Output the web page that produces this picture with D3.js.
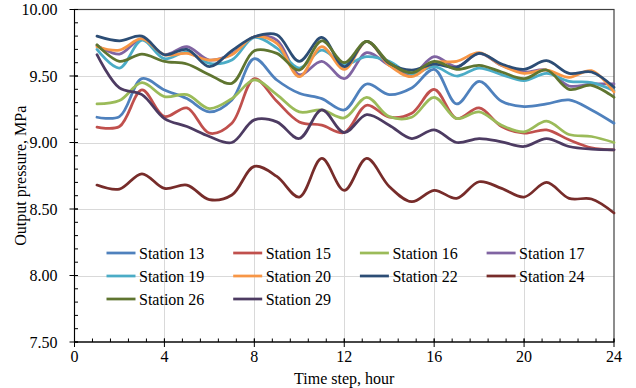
<!DOCTYPE html>
<html>
<head>
<meta charset="utf-8">
<script src="https://cdn.jsdelivr.net/npm/d3@7"></script>
<style>
  body { margin: 0; background: #fff; }
  svg { display: block; font-family: 'Liberation Serif', 'Times New Roman', serif; }
</style>
</head>
<body>
<div id="chart"></div>
<script>
const hours = [1, 2, 3, 4, 5, 6, 7, 8, 9, 10, 11, 12, 13, 14, 15, 16, 17, 18, 19, 20, 21, 22, 23, 24];

const station13 = [9.19, 9.195, 9.48, 9.395, 9.33, 9.23, 9.32, 9.63, 9.47, 9.37, 9.33, 9.245, 9.44, 9.36, 9.41, 9.55, 9.29, 9.46, 9.31, 9.27, 9.29, 9.32, 9.245, 9.145];
const station15 = [9.115, 9.12, 9.395, 9.195, 9.26, 9.07, 9.145, 9.48, 9.31, 9.155, 9.13, 9.075, 9.28, 9.19, 9.22, 9.40, 9.18, 9.26, 9.12, 9.07, 9.095, 9.02, 8.96, 8.945];
const station16 = [9.29, 9.315, 9.45, 9.345, 9.36, 9.255, 9.33, 9.47, 9.36, 9.23, 9.245, 9.185, 9.34, 9.195, 9.19, 9.34, 9.18, 9.23, 9.13, 9.08, 9.16, 9.06, 9.045, 9.00];
const station17 = [9.73, 9.665, 9.78, 9.66, 9.72, 9.62, 9.665, 9.795, 9.77, 9.51, 9.61, 9.48, 9.675, 9.58, 9.51, 9.645, 9.57, 9.67, 9.58, 9.53, 9.545, 9.425, 9.44, 9.44];
const station19 = [9.70, 9.56, 9.77, 9.63, 9.68, 9.595, 9.62, 9.79, 9.71, 9.56, 9.695, 9.59, 9.645, 9.61, 9.515, 9.57, 9.50, 9.56, 9.51, 9.465, 9.52, 9.46, 9.45, 9.39];
const station20 = [9.72, 9.695, 9.78, 9.66, 9.67, 9.62, 9.66, 9.795, 9.745, 9.495, 9.72, 9.55, 9.76, 9.58, 9.495, 9.60, 9.61, 9.675, 9.58, 9.52, 9.545, 9.49, 9.54, 9.38];
const station22 = [9.80, 9.765, 9.80, 9.66, 9.70, 9.57, 9.69, 9.795, 9.81, 9.61, 9.79, 9.57, 9.76, 9.595, 9.545, 9.59, 9.565, 9.67, 9.59, 9.55, 9.615, 9.52, 9.53, 9.415];
const station24 = [8.68, 8.65, 8.765, 8.655, 8.68, 8.57, 8.605, 8.82, 8.745, 8.59, 8.88, 8.64, 8.88, 8.67, 8.555, 8.64, 8.58, 8.705, 8.655, 8.59, 8.70, 8.58, 8.575, 8.47];
const station26 = [9.735, 9.61, 9.665, 9.61, 9.59, 9.51, 9.445, 9.69, 9.67, 9.545, 9.765, 9.60, 9.76, 9.60, 9.525, 9.61, 9.55, 9.58, 9.53, 9.48, 9.545, 9.40, 9.43, 9.34];
const station29 = [9.66, 9.41, 9.36, 9.18, 9.12, 9.045, 9.00, 9.17, 9.155, 9.03, 9.245, 9.075, 9.21, 9.13, 9.03, 9.095, 9.00, 9.03, 9.005, 8.97, 9.03, 8.97, 8.95, 8.945];

const seriesNames = ['Station 13', 'Station 15', 'Station 16', 'Station 17', 'Station 19',
  'Station 20', 'Station 22', 'Station 24', 'Station 26', 'Station 29'];
const seriesColors = ['#4f81bd', '#c0504d', '#9bbb59', '#8064a2', '#4bacc6',
  '#f79646', '#2c4d75', '#772c2a', '#5f7530', '#4d3b62'];
const seriesValues = [station13, station15, station16, station17, station19,
  station20, station22, station24, station26, station29];

const xTicks = [0, 4, 8, 12, 16, 20, 24];
const yTicks = [7.5, 8.0, 8.5, 9.0, 9.5, 10.0];

const width = 636;
const height = 388;
const margin = { top: 9.5, right: 22, bottom: 46, left: 74.5 };

const x = d3.scaleLinear().domain([0, 24]).range([margin.left, width - margin.right]);
const y = d3.scaleLinear().domain([7.5, 10]).range([height - margin.bottom, margin.top]);

const svg = d3.select('#chart').append('svg')
  .attr('width', width)
  .attr('height', height);

svg.append('rect')
  .attr('width', width)
  .attr('height', height)
  .attr('fill', '#fff');

// gridlines
svg.append('g')
  .attr('stroke', '#d9d9d9')
  .attr('stroke-width', 1)
  .call(g => {
    g.selectAll('line.h')
      .data(yTicks.slice(1, -1))
      .join('line')
      .attr('class', 'h')
      .attr('x1', x(0))
      .attr('x2', x(24))
      .attr('y1', d => Math.round(y(d)) + 0.5)
      .attr('y2', d => Math.round(y(d)) + 0.5);
    g.selectAll('line.v')
      .data(xTicks.slice(1, -1))
      .join('line')
      .attr('class', 'v')
      .attr('y1', y(7.5))
      .attr('y2', y(10))
      .attr('x1', d => Math.round(x(d)) + 0.5)
      .attr('x2', d => Math.round(x(d)) + 0.5);
  });

// plot border
svg.append('rect')
  .attr('x', x(0))
  .attr('y', y(10))
  .attr('width', x(24) - x(0))
  .attr('height', y(7.5) - y(10))
  .attr('fill', 'none')
  .attr('stroke', '#404040')
  .attr('stroke-width', 1.2);

// x axis
const xAxis = svg.append('g').attr('transform', `translate(0, ${y(7.5)})`);
xAxis.append('line')
  .attr('x1', x(0)).attr('x2', x(24))
  .attr('stroke', '#000').attr('stroke-width', 1);
xAxis.selectAll('line.minor')
  .data(d3.range(0, 24.001, 0.8))
  .join('line')
  .attr('class', 'minor')
  .attr('x1', d => x(d)).attr('x2', d => x(d))
  .attr('y1', 0).attr('y2', -3.5)
  .attr('stroke', '#000');
xAxis.selectAll('line.major')
  .data(xTicks)
  .join('line')
  .attr('class', 'major')
  .attr('x1', d => x(d)).attr('x2', d => x(d))
  .attr('y1', -3.5).attr('y2', 5)
  .attr('stroke', '#000');
xAxis.selectAll('text')
  .data(xTicks)
  .join('text')
  .attr('x', d => x(d))
  .attr('y', 20)
  .attr('text-anchor', 'middle')
  .attr('font-size', 16)
  .attr('fill', '#000')
  .text(d => d);

svg.append('text')
  .attr('x', (x(0) + x(24)) / 2)
  .attr('y', 384)
  .attr('text-anchor', 'middle')
  .attr('font-size', 16)
  .text('Time step, hour');

// y axis
const yAxis = svg.append('g').attr('transform', `translate(${x(0)}, 0)`);
yAxis.append('line')
  .attr('y1', y(7.5)).attr('y2', y(10))
  .attr('stroke', '#000');
yAxis.selectAll('line.minor')
  .data(d3.range(7.5, 10.001, 0.1))
  .join('line')
  .attr('class', 'minor')
  .attr('y1', d => y(d)).attr('y2', d => y(d))
  .attr('x1', 0).attr('x2', 3.5)
  .attr('stroke', '#000');
yAxis.selectAll('line.major')
  .data(yTicks)
  .join('line')
  .attr('class', 'major')
  .attr('y1', d => y(d)).attr('y2', d => y(d))
  .attr('x1', -5).attr('x2', 3.5)
  .attr('stroke', '#000');
yAxis.selectAll('text')
  .data(yTicks)
  .join('text')
  .attr('x', -17)
  .attr('y', d => y(d) + 5.5)
  .attr('text-anchor', 'end')
  .attr('font-size', 16)
  .text(d => d3.format('.2f')(d));

svg.append('text')
  .attr('transform', `translate(26, ${(y(7.5) + y(10)) / 2}) rotate(-90)`)
  .attr('text-anchor', 'middle')
  .attr('font-size', 16)
  .text('Output pressure, MPa');

// lines
const line = d3.line()
  .x((d, i) => x(hours[i]))
  .y(d => y(d))
  .curve(d3.curveCatmullRom.alpha(0.5));

svg.append('g')
  .attr('fill', 'none')
  .attr('stroke-width', 2.75)
  .attr('stroke-linejoin', 'round')
  .attr('stroke-linecap', 'round')
  .selectAll('path')
  .data(seriesValues)
  .join('path')
  .attr('stroke', (d, i) => seriesColors[i])
  .attr('d', d => line(d));

// legend
const legend = svg.append('g')
  .selectAll('g')
  .data(seriesNames)
  .join('g')
  .attr('transform', (d, i) => `translate(${106.5 + (i % 4) * 126.7}, ${253 + Math.floor(i / 4) * 23})`);

legend.append('line')
  .attr('x1', 0).attr('x2', 29)
  .attr('stroke', (d, i) => seriesColors[i])
  .attr('stroke-width', 2.75);

legend.append('text')
  .attr('x', 32.5)
  .attr('y', 5.5)
  .attr('font-size', 16)
  .text(d => d);
</script>
</body>
</html>
